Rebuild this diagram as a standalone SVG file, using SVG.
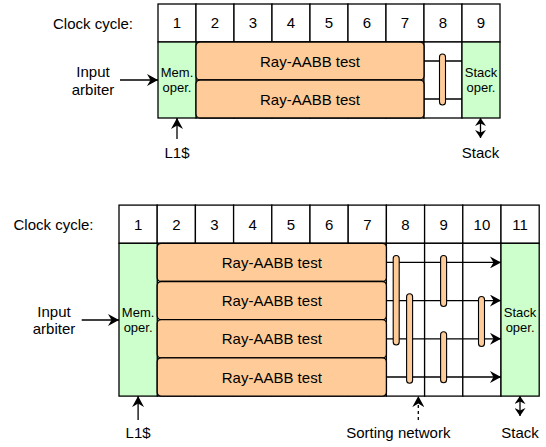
<svg xmlns="http://www.w3.org/2000/svg" width="546" height="447" viewBox="0 0 546 447">
<style>
.cell{fill:#fff;stroke:#000;stroke-width:1.3}
.mem{fill:#CCFFCC;stroke:#000;stroke-width:1.3}
.ray{fill:#FFCC99;stroke:#000;stroke-width:1.3}
.pill{fill:#FFCC99;stroke:#000;stroke-width:1.1}
.t{font-family:"Liberation Sans",Arial,Helvetica,sans-serif;font-size:15px;text-anchor:middle;fill:#000}
.s{font-family:"Liberation Sans",Arial,Helvetica,sans-serif;font-size:13px;text-anchor:middle;fill:#000}
.conn{stroke:#000;stroke-width:1.3;fill:none}
.dash{stroke-dasharray:3 3}
</style>
<defs>
<marker id="arr" markerUnits="userSpaceOnUse" viewBox="0 0 11 12" markerWidth="11" markerHeight="12" refX="11" refY="6" orient="auto">
<path d="M0,0 L11,6 L0,12 L3.5,6 z" fill="#000"/>
</marker>
<marker id="arr2" markerUnits="userSpaceOnUse" viewBox="0 0 8 11" markerWidth="8" markerHeight="11" refX="8" refY="5.5" orient="auto-start-reverse">
<path d="M0,0 L8,5.5 L0,11 L2.5,5.5 z" fill="#000"/>
</marker>
</defs>

<!-- ===== Top diagram ===== -->
<g id="top-diagram">
<text class="t" x="93" y="29">Clock cycle:</text>
<g id="top-grid">
<rect class="cell" x="158" y="4" width="38" height="38"/>
<rect class="cell" x="196" y="4" width="38" height="38"/>
<rect class="cell" x="234" y="4" width="38" height="38"/>
<rect class="cell" x="272" y="4" width="38" height="38"/>
<rect class="cell" x="310" y="4" width="38" height="38"/>
<rect class="cell" x="348" y="4" width="38" height="38"/>
<rect class="cell" x="386" y="4" width="38" height="38"/>
<rect class="cell" x="424" y="4" width="38" height="38"/>
<rect class="cell" x="462" y="4" width="38" height="38"/>
<rect class="cell" x="196" y="42" width="38" height="76"/>
<rect class="cell" x="234" y="42" width="38" height="76"/>
<rect class="cell" x="272" y="42" width="38" height="76"/>
<rect class="cell" x="310" y="42" width="38" height="76"/>
<rect class="cell" x="348" y="42" width="38" height="76"/>
<rect class="cell" x="386" y="42" width="38" height="76"/>
<rect class="cell" x="424" y="42" width="38" height="76"/>
<text class="t" x="177" y="28.3">1</text>
<text class="t" x="215" y="28.3">2</text>
<text class="t" x="253" y="28.3">3</text>
<text class="t" x="291" y="28.3">4</text>
<text class="t" x="329" y="28.3">5</text>
<text class="t" x="367" y="28.3">6</text>
<text class="t" x="405" y="28.3">7</text>
<text class="t" x="443" y="28.3">8</text>
<text class="t" x="481" y="28.3">9</text>
</g>
<g id="top-mem">
<rect class="mem" x="158" y="42" width="38" height="76"/>
<text class="s" x="177" y="77">Mem.</text>
<text class="s" x="177" y="92">oper.</text>
</g>
<g id="top-ray1">
<rect class="ray" x="196" y="42" width="228" height="38" rx="4"/>
<text class="t" x="310" y="66.5">Ray-AABB test</text>
</g>
<g id="top-ray2">
<rect class="ray" x="196" y="80" width="228" height="38" rx="4"/>
<text class="t" x="310" y="104.5">Ray-AABB test</text>
</g>
<g id="top-stack">
<rect class="mem" x="462" y="42" width="38" height="76"/>
<text class="s" x="481" y="77">Stack</text>
<text class="s" x="481" y="92">oper.</text>
</g>
<g id="top-connectors">
<line class="conn" x1="424" y1="61" x2="462" y2="61"/>
<line class="conn" x1="424" y1="99" x2="462" y2="99"/>
<line class="conn" x1="120" y1="80" x2="158" y2="80" marker-end="url(#arr)"/>
<line class="conn" x1="177" y1="139" x2="177" y2="118" marker-end="url(#arr)"/>
<line class="conn" x1="480.5" y1="118" x2="480.5" y2="138" marker-start="url(#arr2)" marker-end="url(#arr2)"/>
</g>
<g id="top-sort">
<rect class="pill" x="439.5" y="54" width="6" height="51" rx="3"/>
</g>
<g id="top-labels">
<text class="t" x="93" y="77">Input</text>
<text class="t" x="93" y="95">arbiter</text>
<text class="t" x="177" y="158">L1$</text>
<text class="t" x="480.5" y="158">Stack</text>
</g>
</g>

<!-- ===== Bottom diagram ===== -->
<g id="bottom-diagram">
<text class="t" x="53.5" y="230">Clock cycle:</text>
<g id="bot-grid">
<rect class="cell" x="119" y="205.1" width="38.2" height="38.2"/>
<rect class="cell" x="157.2" y="205.1" width="38.2" height="38.2"/>
<rect class="cell" x="195.4" y="205.1" width="38.2" height="38.2"/>
<rect class="cell" x="233.6" y="205.1" width="38.2" height="38.2"/>
<rect class="cell" x="271.8" y="205.1" width="38.2" height="38.2"/>
<rect class="cell" x="310" y="205.1" width="38.2" height="38.2"/>
<rect class="cell" x="348.2" y="205.1" width="38.2" height="38.2"/>
<rect class="cell" x="386.4" y="205.1" width="38.2" height="38.2"/>
<rect class="cell" x="424.6" y="205.1" width="38.2" height="38.2"/>
<rect class="cell" x="462.8" y="205.1" width="38.2" height="38.2"/>
<rect class="cell" x="501" y="205.1" width="38.2" height="38.2"/>
<rect class="cell" x="157.2" y="243.3" width="38.2" height="152.8"/>
<rect class="cell" x="195.4" y="243.3" width="38.2" height="152.8"/>
<rect class="cell" x="233.6" y="243.3" width="38.2" height="152.8"/>
<rect class="cell" x="271.8" y="243.3" width="38.2" height="152.8"/>
<rect class="cell" x="310" y="243.3" width="38.2" height="152.8"/>
<rect class="cell" x="348.2" y="243.3" width="38.2" height="152.8"/>
<rect class="cell" x="386.4" y="243.3" width="38.2" height="152.8"/>
<rect class="cell" x="424.6" y="243.3" width="38.2" height="152.8"/>
<rect class="cell" x="462.8" y="243.3" width="38.2" height="152.8"/>
<text class="t" x="138.1" y="229.5">1</text>
<text class="t" x="176.3" y="229.5">2</text>
<text class="t" x="214.5" y="229.5">3</text>
<text class="t" x="252.7" y="229.5">4</text>
<text class="t" x="290.9" y="229.5">5</text>
<text class="t" x="329.1" y="229.5">6</text>
<text class="t" x="367.3" y="229.5">7</text>
<text class="t" x="405.5" y="229.5">8</text>
<text class="t" x="443.7" y="229.5">9</text>
<text class="t" x="481.9" y="229.5">10</text>
<text class="t" x="520.1" y="229.5">11</text>
</g>
<g id="bot-mem">
<rect class="mem" x="119" y="243.3" width="38.2" height="152.8"/>
<text class="s" x="138.1" y="316.7">Mem.</text>
<text class="s" x="138.1" y="331.7">oper.</text>
</g>
<g id="bot-ray1">
<rect class="ray" x="157.2" y="243.3" width="229.2" height="38.2" rx="4"/>
<text class="t" x="271.8" y="267.9">Ray-AABB test</text>
</g>
<g id="bot-ray2">
<rect class="ray" x="157.2" y="281.5" width="229.2" height="38.2" rx="4"/>
<text class="t" x="271.8" y="306.1">Ray-AABB test</text>
</g>
<g id="bot-ray3">
<rect class="ray" x="157.2" y="319.7" width="229.2" height="38.2" rx="4"/>
<text class="t" x="271.8" y="344.3">Ray-AABB test</text>
</g>
<g id="bot-ray4">
<rect class="ray" x="157.2" y="357.9" width="229.2" height="38.2" rx="4"/>
<text class="t" x="271.8" y="382.5">Ray-AABB test</text>
</g>
<g id="bot-stack">
<rect class="mem" x="501" y="243.3" width="38.2" height="152.8"/>
<text class="s" x="520.1" y="316.7">Stack</text>
<text class="s" x="520.1" y="331.7">oper.</text>
</g>
<g id="bot-connectors">
<line class="conn" x1="386.4" y1="262.4" x2="501" y2="262.4" marker-end="url(#arr)"/>
<line class="conn" x1="386.4" y1="300.6" x2="501" y2="300.6" marker-end="url(#arr)"/>
<line class="conn" x1="386.4" y1="338.8" x2="501" y2="338.8" marker-end="url(#arr)"/>
<line class="conn" x1="386.4" y1="377" x2="501" y2="377" marker-end="url(#arr)"/>
<line class="conn" x1="81.7" y1="320" x2="119" y2="320" marker-end="url(#arr)"/>
<line class="conn" x1="138.1" y1="420" x2="138.1" y2="396.1" marker-end="url(#arr)"/>
<line class="conn dash" x1="418.3" y1="420" x2="418.3" y2="396.1" marker-end="url(#arr)"/>
<line class="conn" x1="520" y1="396.1" x2="520" y2="416" marker-start="url(#arr2)" marker-end="url(#arr2)"/>
</g>
<g id="bot-sort">
<rect class="pill" x="393.2" y="255.5" width="6" height="89.5" rx="3"/>
<rect class="pill" x="406.6" y="293.8" width="6" height="89.5" rx="3"/>
<rect class="pill" x="440.6" y="255.5" width="6" height="51" rx="3"/>
<rect class="pill" x="440.6" y="331.8" width="6" height="51" rx="3"/>
<rect class="pill" x="478.5" y="296.5" width="6" height="50" rx="3"/>
</g>
<g id="bot-labels">
<text class="t" x="54" y="316.5">Input</text>
<text class="t" x="54" y="334">arbiter</text>
<text class="t" x="138.1" y="437.5">L1$</text>
<text class="t" x="398.3" y="437.5">Sorting network</text>
<text class="t" x="520" y="437.5">Stack</text>
</g>
</g>
</svg>
